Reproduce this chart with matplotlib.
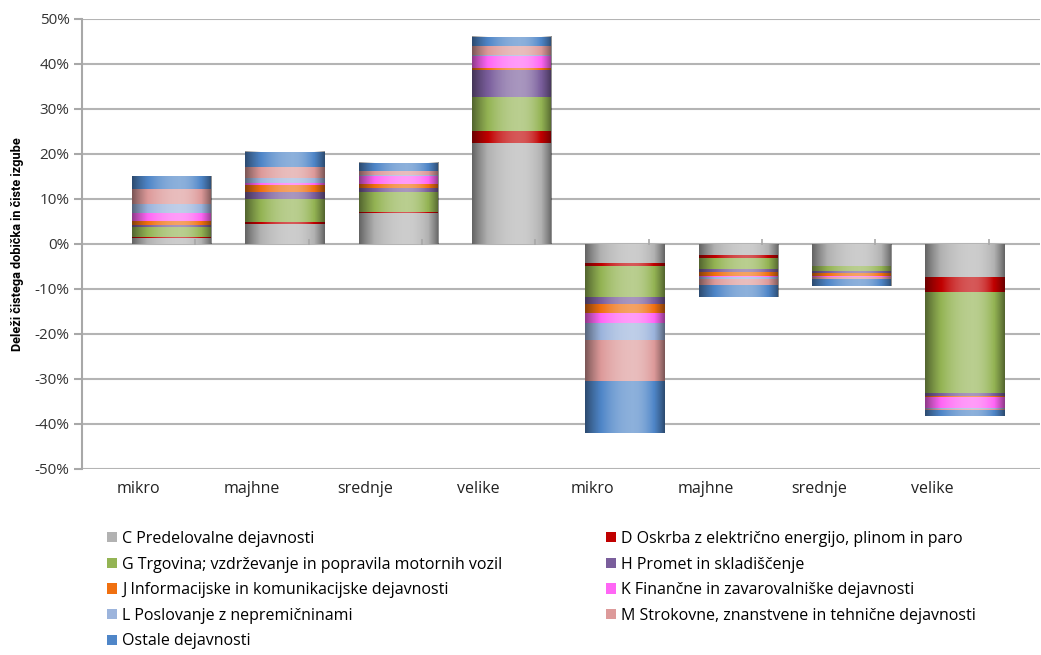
import numpy as np
import matplotlib
matplotlib.use('Agg')
from matplotlib import pyplot as plt
from matplotlib.patches import Patch

plt.rcParams['font.family'] = ['Open Sans', 'DejaVu Sans']

categories = ['mikro', 'majhne', 'srednje', 'velike', 'mikro', 'majhne', 'srednje', 'velike']

# shares in % per activity, first four bars profit, last four loss
sectors = ['C Predelovalne dejavnosti',
           'D Oskrba z električno energijo, plinom in paro',
           'G Trgovina; vzdrževanje in popravila motornih vozil',
           'H Promet in skladiščenje',
           'J Informacijske in komunikacijske dejavnosti',
           'K Finančne in zavarovalniške dejavnosti',
           'L Poslovanje z nepremičninami',
           'M Strokovne, znanstvene in tehnične dejavnosti',
           'Ostale dejavnosti']

c_val = [1.3, 4.5, 6.8, 22.4, -4.3, -2.4, -4.9, -7.3]
d_val = [0.3, 0.4, 0.4, 2.7, -0.5, -0.8, -0.1, -3.3]
g_val = [2.1, 5.0, 4.4, 7.6, -7.0, -2.4, -1.1, -22.6]
h_val = [0.5, 1.7, 0.8, 6.0, -1.5, -0.7, -0.4, -0.6]
j_val = [1.0, 1.4, 1.0, 0.5, -2.1, -0.8, -0.6, -0.1]
k_val = [1.6, 0.5, 1.6, 2.6, -2.2, -0.3, -0.2, -2.6]
l_val = [2.1, 1.1, 0.4, 0.2, -3.7, -0.4, -0.1, -0.1]
m_val = [3.3, 2.6, 0.9, 2.1, -9.1, -1.3, -0.4, -0.2]
o_val = [2.8, 3.3, 1.8, 2.0, -11.5, -2.6, -1.5, -1.4]

colors = ['#b2b2b2', '#c00000', '#94b454', '#7a5e9c', '#f07010',
          '#ff66f5', '#9cb4dc', '#dd9a9a', '#4f86c8']

yticks = [-50, -40, -30, -20, -10, 0, 10, 20, 30, 40, 50]

values = [c_val, d_val, g_val, h_val, j_val, k_val, l_val, m_val, o_val]

fig = plt.figure(figsize=(10.41, 6.55), dpi=100)
ax = fig.add_axes([0.0788, 0.284, 0.92, 0.687])

x = np.arange(len(categories))
xbar = x + 0.79
width = 0.70

bottom = np.zeros(len(categories))
for vals, col in zip(values, colors):
    vals = np.array(vals)
    ax.bar(xbar, vals, width, bottom=bottom, color=col, edgecolor='none', zorder=3)
    bottom = bottom + vals

# cylinder like shading over each bar
u = np.linspace(0, 1, 200)
d = np.where(u < 0.6, (u - 0.6) / 0.6, (u - 0.6) / 0.4)
s = 0.35 - 0.8 * d ** 2
shade = np.zeros((1, len(u), 4))
shade[0, :, :3] = np.where(s[:, None] > 0, 1.0, 0.0)
shade[0, :, 3] = np.abs(s)
for xi, tot in zip(xbar, bottom):
    ax.imshow(shade, extent=[xi - width / 2, xi + width / 2, 0, tot],
              aspect='auto', interpolation='bilinear', zorder=4)

ax.set_xlim(0, 8.45)
ax.set_ylim(-50, 50)
ax.set_yticks(yticks)
ax.set_yticklabels(['%d%%' % t for t in yticks])
ax.yaxis.grid(True, color='#b4b4b4', linewidth=1.5, zorder=0)
ax.set_axisbelow(True)

for sp in ['top', 'right', 'bottom']:
    ax.spines[sp].set_visible(False)
ax.spines['left'].set_color('#a8a8a8')
ax.spines['left'].set_linewidth(1.5)
ax.tick_params(axis='y', length=6, width=1.5, color='#a8a8a8', labelsize=11,
               labelcolor='#333333', pad=3)

# category labels under the plot, small ticks on the zero line
ax.set_xticks(x + 0.5)
ax.set_xticklabels(categories, fontsize=11.5, color='#222222')
ax.tick_params(axis='x', length=0, pad=9)
ax.vlines(np.arange(1, 9), -0.2, 1.1, color='#a8a8a8', linewidth=1.2, zorder=5)

ax.set_ylabel('Deleži čistega dobička in čiste izgube', fontsize=9.2, fontweight='bold',
              family=['Roboto', 'DejaVu Sans'])
ax.yaxis.set_label_coords(-58 / 958, 0.5)

handles = [Patch(facecolor=c, edgecolor='none') for c in colors]
left = [0, 2, 4, 6, 8]
right = [1, 3, 5, 7]
kw = dict(frameon=False, fontsize=11.5, handlelength=0.6, handleheight=0.6,
          handletextpad=0.35, labelspacing=0.6, borderpad=0, borderaxespad=0)
leg1 = fig.legend([handles[i] for i in left], [sectors[i] for i in left],
                  loc='upper left', bbox_to_anchor=(107 / 1041, 1 - 531 / 655), **kw)
leg2 = fig.legend([handles[i] for i in right], [sectors[i] for i in right],
                  loc='upper left', bbox_to_anchor=(606 / 1041, 1 - 531 / 655), **kw)

fig.savefig('out.png', dpi=100)
